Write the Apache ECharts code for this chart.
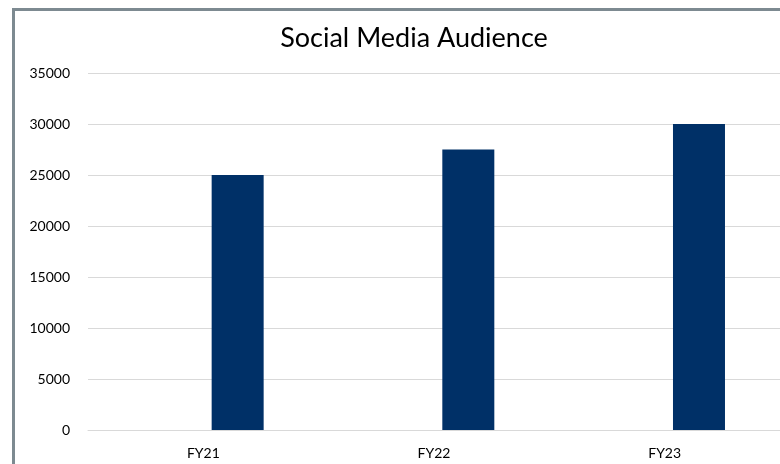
<!DOCTYPE html>
<html>
<head>
<meta charset="utf-8">
<script src="https://cdn.jsdelivr.net/npm/echarts@6/dist/echarts.min.js"></script>
<style>html,body{margin:0;padding:0;background:#fff;}#c{width:780px;height:464px;}</style>
</head>
<body>
<div id="c"></div>
<script>
const categories = ['FY21', 'FY22', 'FY23'];
const audience = [25000, 27500, 30000];
const placeholder = [null, null, null];
const yTicks = [0, 5000, 10000, 15000, 20000, 25000, 30000, 35000];

const chart = echarts.init(document.getElementById('c'));
chart.setOption({
  animation: false,
  backgroundColor: '#fff',
  title: {
    text: 'Social Media Audience',
    left: 409, top: 20, textAlign: 'center',
    textStyle: { fontFamily: 'Lato', fontSize: 27, fontWeight: 'normal', color: '#000' }
  },
  graphic: [{
    type: 'rect', shape: { x: 13.5, y: 9.5, width: 820, height: 520 },
    style: { fill: 'none', stroke: '#7d8a91', lineWidth: 3 }, silent: true, z: 100
  }],
  grid: { left: 88, width: 695, top: 73, bottom: 34, containLabel: false },
  xAxis: {
    type: 'category', data: categories,
    axisLine: { show: true, lineStyle: { color: '#d9d9d9', width: 1 } },
    axisTick: { show: false },
    axisLabel: { color: '#000', fontFamily: 'Lato', fontSize: 14, margin: 16 }
  },
  yAxis: {
    type: 'value', min: yTicks[0], max: yTicks[yTicks.length - 1], interval: 5000,
    axisLine: { show: false }, axisTick: { show: false },
    splitLine: { lineStyle: { color: '#d9d9d9', width: 1 } },
    axisLabel: { color: '#000', fontFamily: 'Lato', fontSize: 14, margin: 18,
      formatter: function (v) { return String(v); } }
  },
  series: [
    { type: 'bar', data: placeholder, barWidth: 52, barGap: '32%', silent: true },
    { type: 'bar', data: audience, barWidth: 52, barGap: '32%',
      itemStyle: { color: '#003067' } }
  ]
});
</script>
</body>
</html>
